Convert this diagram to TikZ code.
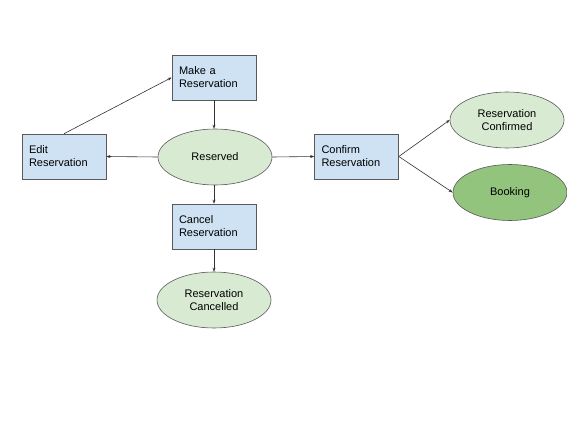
\documentclass[tikz,border=0pt]{standalone}
\usepackage{fontspec}
\setmainfont{Liberation Sans}
\usetikzlibrary{shapes.geometric,arrows.meta}
\definecolor{boxfill}{HTML}{CFE2F3}
\definecolor{lightgreen}{HTML}{D9EAD3}
\definecolor{darkgreen}{HTML}{93C47D}
\definecolor{edge}{HTML}{595959}
\tikzset{
  stepbox/.style={draw=edge, line width=0.6pt, fill=boxfill, rectangle,
    text width=70pt, align=left, inner xsep=7pt, inner ysep=0pt,
    minimum height=45pt, font=\fontsize{11}{13}\selectfont},
  state/.style={draw=edge, line width=0.6pt, fill=lightgreen, ellipse,
    minimum width=114pt, minimum height=56pt, inner sep=0pt, align=center,
    font=\fontsize{11}{13}\selectfont},
  conn/.style={draw=black!80, line width=0.6pt, -{Stealth[length=4pt,width=3pt]}}
}
\begin{document}
\begin{tikzpicture}[x=1pt,y=-1pt]
\useasboundingbox[fill=white] (0,0) rectangle (567,425);
\node[stepbox] (make) at (214,77.5) {Make a\\Reservation};
\node[stepbox] (edit) at (64,156.5) {Edit\\Reservation};
\node[state] (res) at (215,157) {Reserved};
\node[stepbox] (conf) at (356.5,156.5) {Confirm\\Reservation};
\node[state] (rc) at (507,120) {Reservation\\Confirmed};
\node[state, fill=darkgreen] (bk) at (510,192.5) {Booking};
\node[stepbox] (canc) at (214,226.5) {Cancel\\Reservation};
\node[state] (rcan) at (214,300) {Reservation\\Cancelled};
\draw[conn] (make.south) -- (make.south |- res.north);
\draw[conn] (res.west) -- (edit.east);
\draw[conn] (edit.north) -- (make.west);
\draw[conn] (res.east) -- (conf.west);
\draw[conn] (canc.north |- res.south) -- (canc.north);
\draw[conn] (canc.south) -- (rcan.north);
\draw[conn] (conf.east) -- (rc.west);
\draw[conn] (conf.east) -- (bk.west);
\end{tikzpicture}
\end{document}
